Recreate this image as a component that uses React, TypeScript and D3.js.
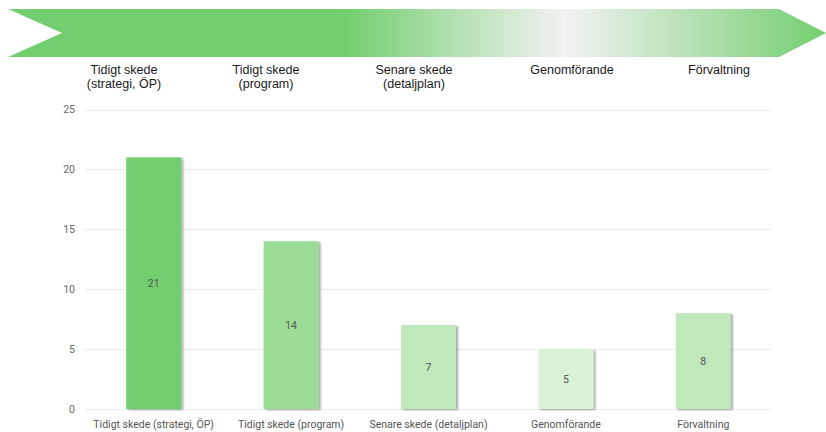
import React from "react";
import * as d3 from "d3";

const categories = [
  "Tidigt skede (strategi, ÖP)",
  "Tidigt skede (program)",
  "Senare skede (detaljplan)",
  "Genomförande",
  "Förvaltning",
];
const values = [21, 14, 7, 5, 8];
const barColors = ["#72CE6E", "#9BDC97", "#BFE8BB", "#DAF2D6", "#BFE8BB"];
const phaseLines = [
  ["Tidigt skede", "(strategi, ÖP)"],
  ["Tidigt skede", "(program)"],
  ["Senare skede", "(detaljplan)"],
  ["Genomförande"],
  ["Förvaltning"],
];
const yTicks = [0, 5, 10, 15, 20, 25];

const W = 826;
const H = 432;
const plot = { left: 85, right: 772, top: 109.5, bottom: 409 };
const phaseCenters = [124, 266, 414, 572, 719];

export default function App() {
  const x = d3
    .scaleBand<string>()
    .domain(categories)
    .range([plot.left, plot.right])
    .paddingInner(0.6)
    .paddingOuter(0.3);
  const y = d3.scaleLinear().domain([0, 25]).range([plot.bottom, plot.top]);

  const arrowTop = 9;
  const arrowBot = 57;
  const arrowMid = (arrowTop + arrowBot) / 2;
  const arrowPath = d3.path();
  arrowPath.moveTo(8, arrowTop);
  arrowPath.lineTo(779, arrowTop);
  arrowPath.lineTo(826, arrowMid);
  arrowPath.lineTo(779, arrowBot);
  arrowPath.lineTo(8, arrowBot);
  arrowPath.lineTo(62, arrowMid);
  arrowPath.closePath();

  return (
    <svg
      width={W}
      height={H}
      style={{ position: "absolute", left: 0, top: 0, background: "#fff" }}
    >
      <defs>
        <linearGradient id="arrowGrad" x1="8" x2="826" y1="0" y2="0" gradientUnits="userSpaceOnUse">
          <stop offset="0" stopColor="#72CE6E" />
          <stop offset="0.41" stopColor="#72CE6E" />
          <stop offset="0.68" stopColor="#F2F2F2" />
          <stop offset="1" stopColor="#74CE70" />
        </linearGradient>
        <filter id="barShadow" x="-20%" y="-5%" width="140%" height="110%">
          <feDropShadow dx="2" dy="1" stdDeviation="1" floodColor="#000" floodOpacity="0.35" />
        </filter>
      </defs>

      <path d={arrowPath.toString()} fill="url(#arrowGrad)" />

      <g fontFamily="'Liberation Sans', Arial, sans-serif" fontSize={12.5} fill="#1a1a1a" textAnchor="middle">
        {phaseLines.map((lines, i) => (
          <text key={i} x={phaseCenters[i]} y={74}>
            {lines.map((l, j) => (
              <tspan key={j} x={phaseCenters[i]} dy={j === 0 ? 0 : 14}>
                {l}
              </tspan>
            ))}
          </text>
        ))}
      </g>

      <g>
        {yTicks.map((t) => (
          <g key={t}>
            <line
              x1={plot.left}
              x2={plot.right}
              y1={Math.round(y(t)) + 0.5}
              y2={Math.round(y(t)) + 0.5}
              stroke="#EBEBEB"
              strokeWidth={1}
            />
            <text
              x={75}
              y={y(t)}
              dy="0.35em"
              textAnchor="end"
              fontFamily="Roboto, sans-serif"
              fontSize={10.5}
              fill="#666"
            >
              {t}
            </text>
          </g>
        ))}
      </g>

      <g>
        {categories.map((c, i) => (
          <g key={c}>
            <rect
              x={x(c)}
              y={y(values[i])}
              width={x.bandwidth()}
              height={y(0) - y(values[i])}
              fill={barColors[i]}
              filter="url(#barShadow)"
            />
            <text
              x={(x(c) ?? 0) + x.bandwidth() / 2}
              y={(y(values[i]) + y(0)) / 2}
              dy="0.35em"
              textAnchor="middle"
              fontFamily="Roboto, sans-serif"
              fontSize={10.5}
              fill="#555"
            >
              {values[i]}
            </text>
            <text
              x={(x(c) ?? 0) + x.bandwidth() / 2}
              y={424}
              dy="0.35em"
              textAnchor="middle"
              fontFamily="Roboto, sans-serif"
              fontSize={10.5}
              fill="#555"
            >
              {c}
            </text>
          </g>
        ))}
      </g>
    </svg>
  );
}
